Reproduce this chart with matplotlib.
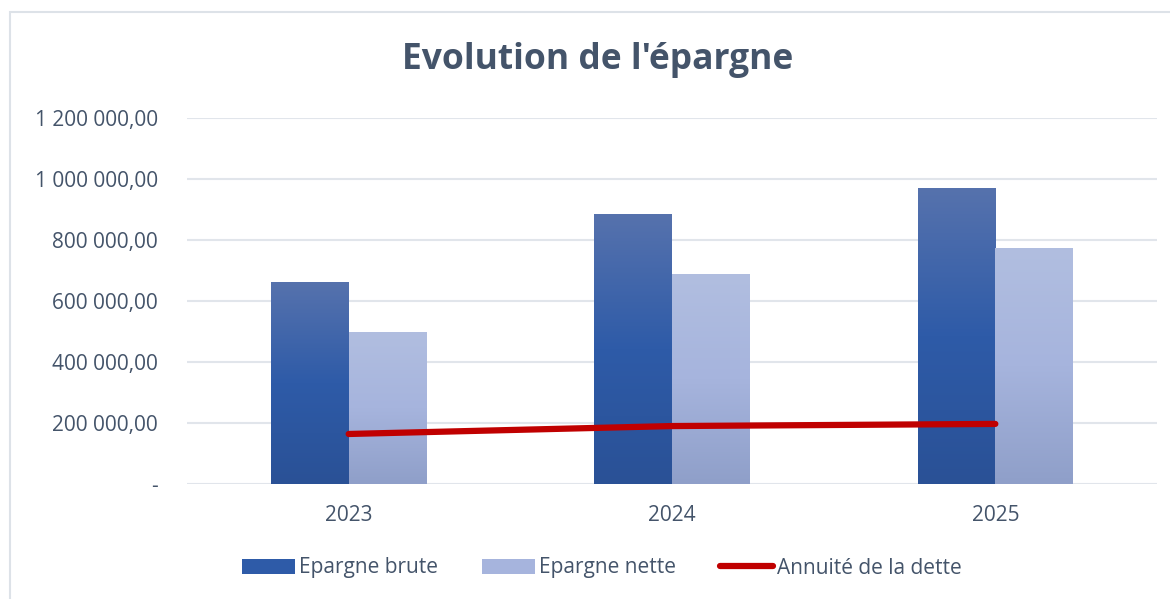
import numpy as np
import matplotlib.pyplot as plt
from matplotlib.patches import Patch, Rectangle
from matplotlib.lines import Line2D
from matplotlib.colors import LinearSegmentedColormap

plt.rcParams['font.family'] = ['Open Sans', 'DejaVu Sans']

# Donnees
annees = ['2023', '2024', '2025']
epargne_brute = [662000, 882000, 970000]
epargne_nette = [498000, 688000, 773000]
annuite_dette = [164000, 190000, 197000]

couleur_texte = '#44546A'
grille = '#E1E5EB'

fig = plt.figure(figsize=(11.7, 5.99), dpi=100)
ax = fig.add_axes([187 / 1170, 1 - 484 / 599, 970 / 1170, 366 / 599])

# Cadre du graphique (bord gauche et haut visibles)
fig.patches.append(Rectangle((10 / 1170, -0.05), 1.2, 1 - 12 / 599 + 0.05,
                             transform=fig.transFigure, fill=False,
                             edgecolor='#DDE2E8', linewidth=1.5))

cmap_brute = LinearSegmentedColormap.from_list('brute', ['#2A5196', '#2E5BA8', '#5672AD'])
cmap_nette = LinearSegmentedColormap.from_list('nette', ['#8F9FC9', '#A6B4DD', '#B1BEE0'])
grad = np.linspace(0, 1, 256).reshape(-1, 1)

largeur = 0.24
x = np.arange(len(annees))
for i in x:
    for val, dx, cmap in [(epargne_brute[i], -largeur / 2, cmap_brute),
                          (epargne_nette[i], largeur / 2, cmap_nette)]:
        ax.imshow(grad, cmap=cmap, origin='lower', aspect='auto',
                  extent=[i + dx - largeur / 2, i + dx + largeur / 2, 0, val], zorder=2)

ax.plot(x, annuite_dette, color='#C00000', linewidth=4.5, solid_capstyle='round', zorder=4)

ax.set_xlim(-0.5, 2.5)
ax.set_ylim(0, 1200000)
ax.set_yticks(np.arange(0, 1200001, 200000))
ax.set_yticklabels(['-'] + ['{:,.2f}'.format(v).replace(',', ' ').replace('.', ',')
                            for v in np.arange(200000, 1200001, 200000)])
ax.set_xticks(x)
ax.set_xticklabels(annees)
ax.grid(axis='y', color=grille, linewidth=1.5, zorder=0)
ax.set_axisbelow(True)
for s in ax.spines.values():
    s.set_visible(False)
ax.tick_params(length=0, labelsize=15, labelcolor=couleur_texte)
ax.tick_params(axis='y', pad=21)
ax.tick_params(axis='x', pad=15)

fig.text(598 / 1170, 1 - 60 / 599, "Evolution de l'épargne", ha='center', va='center',
         fontsize=25.5, fontweight='bold', color=couleur_texte)

handles = [Patch(facecolor='#2E5BA8'), Patch(facecolor='#A6B4DD'),
           Line2D([], [], color='#C00000', linewidth=4.5, solid_capstyle='round')]
leg = fig.legend(handles, ['Epargne brute', 'Epargne nette', 'Annuité de la dette'],
                 loc='center', bbox_to_anchor=(602 / 1170, 1 - 568 / 599), ncol=3,
                 frameon=False, fontsize=15, handlelength=2.55, handleheight=0.75,
                 handletextpad=0.2, columnspacing=2.1)
for t in leg.get_texts():
    t.set_color(couleur_texte)

fig.savefig('out.png', dpi=100)
